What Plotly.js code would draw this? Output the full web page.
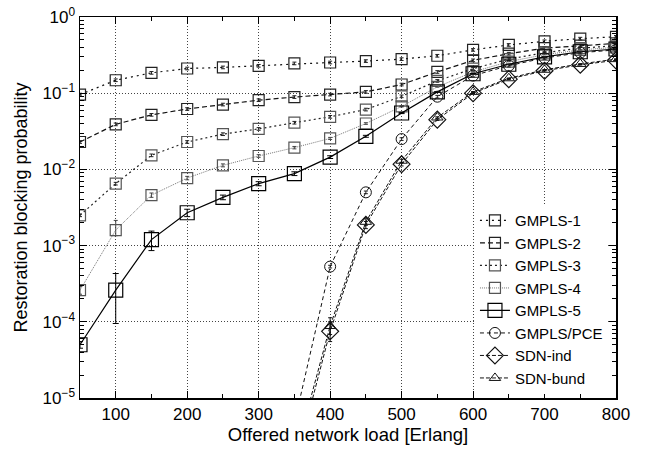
<!DOCTYPE html>
<html>
<head>
<meta charset="utf-8">
<script src="https://cdn.plot.ly/plotly-3.0.1.min.js"></script>
<style>html,body{margin:0;padding:0;background:#fff;}#chart{width:646px;height:449px;}</style>
</head>
<body>
<div id="chart"></div>
<script>
// ---- data ----
const loadsAll = [50,100,150,200,250,300,350,400,450,500,550,600,650,700,750,800];
const loadsHigh = [350,400,450,500,550,600,650,700,750,800];

const gmpls1 = [0.096,0.148,0.185,0.211,0.218,0.229,0.246,0.253,0.264,0.28,0.31,0.37,0.43,0.48,0.52,0.55];
const gmpls2 = [0.0229,0.039,0.052,0.062,0.071,0.081,0.089,0.096,0.104,0.13,0.19,0.27,0.33,0.39,0.42,0.45];
const gmpls3 = [0.0025,0.0065,0.0153,0.0229,0.029,0.034,0.041,0.049,0.061,0.091,0.145,0.21,0.28,0.34,0.39,0.42];
const gmpls4 = [0.00026,0.0016,0.0046,0.0077,0.0113,0.015,0.0193,0.0255,0.04,0.067,0.121,0.19,0.26,0.32,0.37,0.40];
const gmpls5 = [0.00005,0.00026,0.0012,0.0027,0.0043,0.0065,0.0088,0.0145,0.0272,0.055,0.104,0.18,0.24,0.30,0.35,0.38];
const gmplsPce = [0.0000047,0.00053,0.0050,0.025,0.09,0.17,0.23,0.29,0.34,0.37];
const sdnInd  = [0.0000012,0.000075,0.00187,0.0117,0.045,0.100,0.153,0.197,0.236,0.27];
const sdnBund = [0.0000016,0.000088,0.00205,0.0130,0.048,0.104,0.157,0.203,0.242,0.28];

// error bar half-widths (plus / minus)
const gmpls5ErrPlus  = [0.000005,0.00017,0.00035,0.0003,0.0003,0.0004,0.0005,0.0006,0.0008,0.001,0.001,0.001,0.001,0.001,0.001,0.001];
const gmpls5ErrMinus = [0.000005,0.000165,0.00034,0.0003,0.0003,0.0004,0.0005,0.0006,0.0008,0.001,0.001,0.001,0.001,0.001,0.001,0.001];
const gmpls4ErrPlus  = [0.00003,0.00054,0.0003,0.0004,0.0005,0.0006,0.0007,0.0008,0.001,0.001,0.001,0.001,0.001,0.001,0.001,0.001];
const gmpls4ErrMinus = [0.00003,0.00025,0.0003,0.0004,0.0005,0.0006,0.0007,0.0008,0.001,0.001,0.001,0.001,0.001,0.001,0.001,0.001];
const smallRel = 0.04;
const sdnErrPlus  = [0,0.000025,0.0002,0.0006,0.001,0.001,0.001,0.001,0.001,0.001];
const sdnErrMinus = [0,0.00002,0.0002,0.0006,0.001,0.001,0.001,0.001,0.001,0.001];

const seriesNames = ['GMPLS-1','GMPLS-2','GMPLS-3','GMPLS-4','GMPLS-5','GMPLS/PCE','SDN-ind','SDN-bund'];
const yTickVals = [1e-5,1e-4,1e-3,1e-2,1e-1,1];
const yTickText = ['10<sup>\u22125</sup>','10<sup>\u22124</sup>','10<sup>\u22123</sup>','10<sup>\u22122</sup>','10<sup>\u22121</sup>','10<sup>0</sup>'];
const xTickVals = [100,200,300,400,500,600,700,800];

function relErr(arr){ return {type:'data', array: arr.map(v=>v*smallRel), symmetric:true, thickness:1, width:2, color:'#222'}; }

const traces = [
  {x: loadsAll, y: gmpls1, name: seriesNames[0], mode:'lines+markers',
   line:{color:'#111', width:1.2, dash:'2px,4px'},
   marker:{symbol:'square-open', size:11, color:'#222', line:{width:1.2}},
   error_y: relErr(gmpls1)},
  {x: loadsAll, y: gmpls2, name: seriesNames[1], mode:'lines+markers',
   line:{color:'#111', width:1.2, dash:'5px,3px'},
   marker:{symbol:'square-open', size:11, color:'#222', line:{width:1.2}},
   error_y: relErr(gmpls2)},
  {x: loadsAll, y: gmpls3, name: seriesNames[2], mode:'lines+markers',
   line:{color:'#222', width:1.2, dash:'2px,3px'},
   marker:{symbol:'square-open', size:11, color:'#555', line:{width:1.2}},
   error_y: relErr(gmpls3)},
  {x: loadsAll, y: gmpls4, name: seriesNames[3], mode:'lines+markers',
   line:{color:'#777', width:1, dash:'1px,1px'},
   marker:{symbol:'square-open', size:11, color:'#555', line:{width:1.2}},
   error_y:{type:'data', array:gmpls4ErrPlus, arrayminus:gmpls4ErrMinus, thickness:1, width:2, color:'#444'}},
  {x: loadsAll, y: gmpls5, name: seriesNames[4], mode:'lines+markers',
   line:{color:'#000', width:1.2},
   marker:{symbol:'square-open', size:14, color:'#000', line:{width:1.2}},
   error_y:{type:'data', array:gmpls5ErrPlus, arrayminus:gmpls5ErrMinus, thickness:1, width:3, color:'#000'}},
  {x: loadsHigh, y: gmplsPce, name: seriesNames[5], mode:'lines+markers',
   line:{color:'#111', width:1, dash:'4px,3px'},
   marker:{symbol:'circle-open', size:11, color:'#111', line:{width:1}},
   error_y: relErr(gmplsPce)},
  {x: loadsHigh, y: sdnInd, name: seriesNames[6], mode:'lines+markers',
   line:{color:'#111', width:1, dash:'4px,2px'},
   marker:{symbol:'diamond-open', size:13, color:'#111', line:{width:1.2}},
   error_y:{type:'data', array:sdnErrPlus, arrayminus:sdnErrMinus, thickness:1, width:2, color:'#111'}},
  {x: loadsHigh, y: sdnBund, name: seriesNames[7], mode:'lines+markers',
   line:{color:'#111', width:1, dash:'4px,2px'},
   marker:{symbol:'triangle-up-open', size:10, color:'#111', line:{width:1}},
   error_y:{type:'data', array:sdnErrPlus, arrayminus:sdnErrMinus, thickness:1, width:2, color:'#111'}}
];

const font = {family:'"Liberation Sans", Arial, Helvetica, sans-serif', color:'#000'};

const layout = {
  width:646, height:449,
  margin:{l:80, r:30, t:17, b:51},
  paper_bgcolor:'#fff', plot_bgcolor:'#fff',
  font: Object.assign({size:16}, font),
  showlegend:true,
  legend:{x:0.985, y:0.01, xanchor:'right', yanchor:'bottom', bgcolor:'rgba(255,255,255,1)',
          borderwidth:0, font:Object.assign({size:15}, font), tracegroupgap:0},
  xaxis:{
    type:'linear', range:[50,800], tickmode:'array', tickvals:xTickVals,
    showline:true, linecolor:'#000', linewidth:1.5, mirror:'ticks',
    ticks:'inside', ticklen:7, tickcolor:'#000', tickwidth:1,
    showgrid:true, gridcolor:'#444', griddash:'1px,2px', gridwidth:1,
    zeroline:false,
    minor:{dtick:50, tick0:0, ticks:'inside', ticklen:4, tickcolor:'#000', showgrid:false},
    tickfont:Object.assign({size:17}, font),
    title:{text:'Offered network load [Erlang]', font:Object.assign({size:18.5}, font), standoff:5}
  },
  yaxis:{
    type:'log', range:[-5,0], tickmode:'array', tickvals:yTickVals, ticktext:yTickText,
    showline:true, linecolor:'#000', linewidth:1.5, mirror:'ticks',
    ticks:'inside', ticklen:7, tickcolor:'#000', tickwidth:1,
    showgrid:true, gridcolor:'#444', griddash:'1px,2px', gridwidth:1,
    zeroline:false,
    minor:{dtick:'D1', ticks:'inside', ticklen:4, tickcolor:'#000', showgrid:false},
    tickfont:Object.assign({size:17}, font),
    title:{text:'Restoration blocking probability', font:Object.assign({size:18}, font), standoff:10}
  }
};

Plotly.newPlot('chart', traces, layout, {displayModeBar:false, staticPlot:true});
</script>
</body>
</html>
